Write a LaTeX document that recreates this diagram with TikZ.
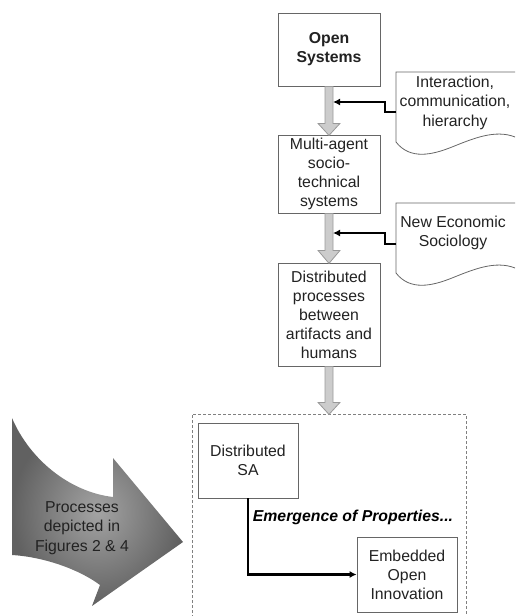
\documentclass[tikz,border=0pt]{standalone}
\usepackage{fontspec}
\setmainfont{Liberation Sans}
\usetikzlibrary{arrows.meta,calc}
\definecolor{boxline}{HTML}{666666}
\definecolor{txt}{HTML}{222222}
\definecolor{gfill}{HTML}{CCCCCC}
\definecolor{gline}{HTML}{999999}
\begin{document}
\begin{tikzpicture}[x=1pt,y=-1pt,
  box/.style={draw=boxline, line width=0.8pt, fill=white, align=center,
    font=\fontsize{15.8}{19}\selectfont, text=txt, inner sep=0pt},
  doctext/.style={align=center, font=\fontsize{15.8}{19.5}\selectfont, text=txt, inner sep=0pt},
  docshape/.style={draw=boxline, line width=0.8pt},
  garrow/.style={fill=gfill, draw=gline, line width=0.8pt, line join=miter},
  conn/.style={draw=black, line width=2.3pt, -{Latex[length=7pt,width=7pt]}},
  dbox/.style={draw=black!50, line width=0.7pt, dash pattern=on 3pt off 2pt}
]
\useasboundingbox (0,0) rectangle (515,616);

% document shapes
\draw[docshape] (515,72) -- (396,72) -- (396,142)
  .. controls (410,160) and (432,155) .. (452,147)
  .. controls (472,139) and (495,129) .. (515,137);
\draw[docshape] (515,203) -- (396,203) -- (396,273)
  .. controls (410,291) and (432,286) .. (452,278)
  .. controls (472,270) and (495,260) .. (515,268);
\node[doctext] (doc1) at (455,102.5) {Interaction,\\communication,\\hierarchy};
\node[doctext] (doc2) at (453,233) {New Economic\\Sociology};
\coordinate (d1) at (396,112);
\coordinate (d2) at (396,244);
\coordinate (a1) at (333,102);
\coordinate (a2) at (333,233);

% main boxes
\node[box, minimum width=102pt, minimum height=73pt] (open) at (329,49.5) {\bfseries Open\\\bfseries Systems};
\node[box, minimum width=102pt, minimum height=78pt] (multi) at (329,174) {Multi-agent\\socio-\\technical\\systems};
\node[box, minimum width=102pt, minimum height=103pt] (dist) at (329,314.5) {Distributed\\processes\\between\\artifacts and\\humans};

% dashed container
\coordinate (dtop) at (329,414);
\draw[dbox] (192,618) -- (192,414) -- (466,414) -- (466,618);

% thick gray arrows
\draw[garrow] (open.south) ++(-4,0) -- ++(0,37) -- ++(-7,0) -- ++(11,12) -- ++(11,-12) -- ++(-7,0) -- ++(0,-37) -- cycle;
\draw[garrow] (multi.south) ++(-4,0) -- ++(0,37) -- ++(-7,0) -- ++(11,13) -- ++(11,-13) -- ++(-7,0) -- ++(0,-37) -- cycle;
\draw[garrow] (dist.south) ++(-4,0) -- ++(0,36) -- ++(-7,0) -- ++(11,12) -- ++(11,-12) -- ++(-7,0) -- ++(0,-36) -- cycle;

% connectors from documents
\draw[conn] (d1) -- ++(-11,0) |- (a1);
\draw[conn] (d2) -- ++(-11,0) |- (a2);

% inner boxes
\node[box, minimum width=100pt, minimum height=75pt] (sa) at (248,460.5) {Distributed\\SA};
\node[box, minimum width=100pt, minimum height=75pt] (eoi) at (407,574.5) {Embedded\\Open\\Innovation};
\draw[conn] (sa.south) |- (eoi.west);
\node[font=\fontsize{15.8}{19}\selectfont\bfseries\itshape, text=black, inner sep=0pt] (emerg) at (353,517) {Emergence of Properties...};

% big curved arrow
\shade[inner color=black!36, outer color=black!62]
  (12,418) .. controls (30,460) and (70,492) .. (113,497)
  -- (113,458) -- (183,542) -- (92,606) -- (100,585)
  .. controls (80,570) and (45,557) .. (12,555) -- cycle;
\node[doctext] (proc) at (82,528) {Processes\\depicted in\\Figures 2 \& 4};
\end{tikzpicture}
\end{document}
